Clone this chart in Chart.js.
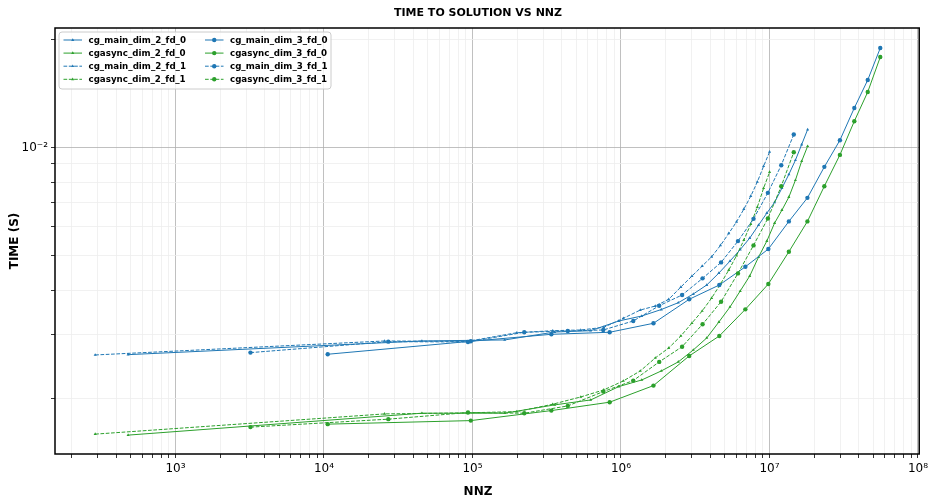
<!DOCTYPE html>
<html>
<head>
<meta charset="utf-8">
<script src="https://cdn.jsdelivr.net/npm/chart.js@4/dist/chart.umd.min.js"></script>
<style>
  html, body { margin: 0; padding: 0; background: #fff; }
  #wrap { width: 932px; height: 499px; }
</style>
</head>
<body>
<div id="wrap"><canvas id="myChart" width="932" height="499"></canvas></div>
<script>
'use strict';

// NNZ of each problem size (x values)
let nnzDim2Fd0 = [480, 45696, 164892, 358048, 625164, 966240, 1381276, 1870272, 2433228, 3070144, 3781020, 4565856, 5424652, 6357408, 7364124, 8444800, 9599436, 10828032, 12130588, 13507104, 14957580, 16482016, 18080412];
let nnzDim2Fd1 = [288, 25632, 91936, 199200, 347424, 536608, 766752, 1037856, 1349920, 1702944, 2096928, 2531872, 3007776, 3524640, 4082464, 4681248, 5320992, 6001696, 6723360, 7485984, 8289568, 9134112, 10019616];
let nnzDim3Fd0 = [10600, 97500, 340000, 839408, 1655650, 2880854, 4595754, 6883974, 9830000, 13512905, 18017015, 23428214, 29824156, 37286000, 45909330, 55760000];
let nnzDim3Fd1 = [3200, 27136, 93312, 223232, 438400, 760320, 1210496, 1810432, 2581632, 3545600, 4723712, 6137856, 7809152, 9759232, 12009600, 14581760];

// Time to solution (s)
let cgMainDim2Fd0 = [0.002642, 0.002885, 0.002904, 0.003056, 0.003082, 0.003280, 0.003387, 0.003531, 0.003689, 0.003901, 0.004132, 0.004462, 0.004819, 0.005189, 0.005585, 0.006071, 0.006556, 0.007024, 0.007696, 0.008405, 0.009211, 0.010188, 0.011216];
let cgasyncDim2Fd0 = [0.001576, 0.001814, 0.001814, 0.001914, 0.001975, 0.002152, 0.002246, 0.002380, 0.002522, 0.002723, 0.002941, 0.003259, 0.003589, 0.003977, 0.004377, 0.004945, 0.005478, 0.006150, 0.006683, 0.007265, 0.008101, 0.009153, 0.010077];
let cgMainDim2Fd1 = [0.002637, 0.002885, 0.002876, 0.003042, 0.003082, 0.003096, 0.003150, 0.003337, 0.003519, 0.003611, 0.003770, 0.004079, 0.004377, 0.004667, 0.004955, 0.005330, 0.005756, 0.006201, 0.006727, 0.007312, 0.008013, 0.008864, 0.009716];
let cgasyncDim2Fd1 = [0.001586, 0.001806, 0.001818, 0.001833, 0.001922, 0.002014, 0.002107, 0.002232, 0.002380, 0.002587, 0.002758, 0.002979, 0.003238, 0.003498, 0.003802, 0.004159, 0.004549, 0.004990, 0.005514, 0.006110, 0.006818, 0.007696, 0.008530];
let cgMainDim3Fd0 = [0.002649, 0.002879, 0.003011, 0.003051, 0.003232, 0.003770, 0.004132, 0.004646, 0.005206, 0.006217, 0.007232, 0.008825, 0.010474, 0.012883, 0.015418, 0.018928];
let cgasyncDim3Fd0 = [0.001691, 0.001730, 0.001845, 0.001947, 0.002166, 0.002620, 0.002979, 0.003535, 0.004159, 0.005117, 0.006217, 0.007795, 0.009530, 0.011834, 0.014277, 0.017866];
let cgMainDim3Fd1 = [0.002677, 0.002872, 0.002867, 0.003051, 0.003076, 0.003096, 0.003280, 0.003618, 0.003876, 0.004313, 0.004779, 0.005478, 0.006321, 0.007468, 0.008920, 0.010862];
let cgasyncDim3Fd1 = [0.001659, 0.001746, 0.001822, 0.001814, 0.001901, 0.002084, 0.002237, 0.002522, 0.002781, 0.003211, 0.003712, 0.004453, 0.005330, 0.006337, 0.007795, 0.009696];

// Tick labels (powers of ten only)
let xMajorTicks = [1e3, 1e4, 1e5, 1e6, 1e7, 1e8];
let xTickLabels = ['10³', '10⁴', '10⁵', '10⁶', '10⁷', '10⁸'];
let yMajorTicks = [1e-2];
let yTickLabels = ['10⁻²'];

const BLUE = '#1f77b4';
const GREEN = '#2ca02c';
const FONT = '"DejaVu Sans", sans-serif';

const xMin = 154.5, xMax = 1.02e8;
const yMin = 0.001396, yMax = 0.02153;

// one dataset per series
function makeSet(label, xs, ys, color, dashed, dim3) {
  return {
    label: label,
    data: xs.map((x, i) => ({ x: x, y: ys[i] })),
    borderColor: color,
    backgroundColor: color,
    borderWidth: 1,
    borderDash: dashed ? [3.7, 1.6] : [],
    pointStyle: dim3 ? 'circle' : 'triangle',
    pointRadius: dim3 ? 2.2 : 1.8,
    pointBorderWidth: 0,
    pointHoverRadius: 2,
    tension: 0,
    fill: false
  };
}

let datasets = [
  makeSet('cg_main_dim_2_fd_0', nnzDim2Fd0, cgMainDim2Fd0, BLUE, false, false),
  makeSet('cgasync_dim_2_fd_0', nnzDim2Fd0, cgasyncDim2Fd0, GREEN, false, false),
  makeSet('cg_main_dim_2_fd_1', nnzDim2Fd1, cgMainDim2Fd1, BLUE, true, false),
  makeSet('cgasync_dim_2_fd_1', nnzDim2Fd1, cgasyncDim2Fd1, GREEN, true, false),
  makeSet('cg_main_dim_3_fd_0', nnzDim3Fd0, cgMainDim3Fd0, BLUE, false, true),
  makeSet('cgasync_dim_3_fd_0', nnzDim3Fd0, cgasyncDim3Fd0, GREEN, false, true),
  makeSet('cg_main_dim_3_fd_1', nnzDim3Fd1, cgMainDim3Fd1, BLUE, true, true),
  makeSet('cgasync_dim_3_fd_1', nnzDim3Fd1, cgasyncDim3Fd1, GREEN, true, true)
];
// later series drawn on top, like matplotlib
datasets.forEach((d, i) => { d.order = datasets.length - i; });

// 1..9 x 10^n inside the range
function logTicks(min, max) {
  let out = [];
  let start = Math.floor(Math.log10(min));
  let end = Math.ceil(Math.log10(max));
  for (let e = start; e <= end; e++) {
    for (let m = 1; m <= 9; m++) {
      let v = Number((m * Math.pow(10, e)).toPrecision(10));
      if (v >= min && v <= max) out.push(v);
    }
  }
  return out;
}

function isMajor(v) {
  let l = Math.log10(v);
  return Math.abs(l - Math.round(l)) < 1e-9;
}

function labelFor(v, majors, labels) {
  for (let i = 0; i < majors.length; i++) {
    if (Math.abs(v / majors[i] - 1) < 1e-9) return labels[i];
  }
  return '';
}

function gridFor() {
  return {
    color: (ctx) => (ctx.tick && isMajor(ctx.tick.value)) ? '#b0b0b0' : '#ededed',
    lineWidth: 0.8,
    tickColor: '#000',
    tickLength: 4,
    drawTicks: true
  };
}

// frame, title, axis labels and legend
const decor = {
  id: 'decor',
  afterDraw(chart) {
    const ctx = chart.ctx;
    const a = chart.chartArea;
    ctx.save();

    ctx.strokeStyle = '#000';
    ctx.lineWidth = 1.5;
    ctx.strokeRect(a.left, a.top, a.right - a.left, a.bottom - a.top);

    ctx.fillStyle = '#000';
    ctx.textAlign = 'center';
    ctx.textBaseline = 'middle';
    ctx.font = 'bold 11px ' + FONT;
    ctx.fillText('TIME TO SOLUTION VS NNZ', 478, 13);
    ctx.font = 'bold 12px ' + FONT;
    ctx.fillText('NNZ', 478, 492);
    ctx.save();
    ctx.translate(15, 241);
    ctx.rotate(-Math.PI / 2);
    ctx.fillText('TIME (S)', 0, 0);
    ctx.restore();

    // legend box
    let bx = 59, by = 32, bw = 272, bh = 57, r = 3;
    ctx.beginPath();
    ctx.moveTo(bx + r, by);
    ctx.arcTo(bx + bw, by, bx + bw, by + bh, r);
    ctx.arcTo(bx + bw, by + bh, bx, by + bh, r);
    ctx.arcTo(bx, by + bh, bx, by, r);
    ctx.arcTo(bx, by, bx + bw, by, r);
    ctx.closePath();
    ctx.fillStyle = 'rgba(255,255,255,0.8)';
    ctx.fill();
    ctx.strokeStyle = '#cccccc';
    ctx.lineWidth = 1;
    ctx.stroke();

    ctx.font = 'bold 8.7px ' + FONT;
    ctx.textAlign = 'left';
    chart.data.datasets.forEach((d, i) => {
      let col = i < 4 ? 0 : 1;
      let row = i % 4;
      let x0 = col === 0 ? 63.5 : 205;
      let y = 40 + row * 13.1;
      ctx.strokeStyle = d.borderColor;
      ctx.lineWidth = 1;
      ctx.setLineDash(d.borderDash);
      ctx.beginPath();
      ctx.moveTo(x0, y);
      ctx.lineTo(x0 + 18.5, y);
      ctx.stroke();
      ctx.setLineDash([]);
      ctx.fillStyle = d.backgroundColor;
      Chart.helpers.drawPoint(ctx, {
        pointStyle: d.pointStyle, radius: d.pointRadius, rotation: 0, borderWidth: 0
      }, x0 + 9.25, y);
      ctx.fillStyle = '#000';
      ctx.fillText(d.label, x0 + 25, y + 0.5);
    });
    ctx.restore();
  }
};

let xTickValues = logTicks(xMin, xMax);
let yTickValues = logTicks(yMin, yMax);

const myChart = new Chart(document.getElementById('myChart'), {
  type: 'line',
  data: { datasets: datasets },
  options: {
    responsive: false,
    animation: false,
    devicePixelRatio: 1,
    layout: { padding: { top: 28, right: 11, left: 0, bottom: 0 } },
    plugins: {
      legend: { display: false },
      title: { display: false },
      tooltip: { enabled: false }
    },
    scales: {
      x: {
        type: 'logarithmic',
        min: xMin,
        max: xMax,
        afterBuildTicks: (scale) => { scale.ticks = xTickValues.map(v => ({ value: v })); },
        afterFit: (scale) => { scale.height = 45; },
        grid: gridFor(),
        border: { display: false },
        ticks: {
          autoSkip: false,
          maxRotation: 0,
          padding: 4,
          color: '#000',
          font: { family: FONT, size: 12 },
          callback: (v) => labelFor(v, xMajorTicks, xTickLabels)
        }
      },
      y: {
        type: 'logarithmic',
        min: yMin,
        max: yMax,
        afterBuildTicks: (scale) => { scale.ticks = yTickValues.map(v => ({ value: v })); },
        afterFit: (scale) => { scale.width = 55; },
        grid: gridFor(),
        border: { display: false },
        ticks: {
          autoSkip: false,
          padding: 3,
          color: '#000',
          font: { family: FONT, size: 12 },
          callback: (v) => labelFor(v, yMajorTicks, yTickLabels)
        }
      }
    }
  },
  plugins: [decor]
});
</script>
</body>
</html>
